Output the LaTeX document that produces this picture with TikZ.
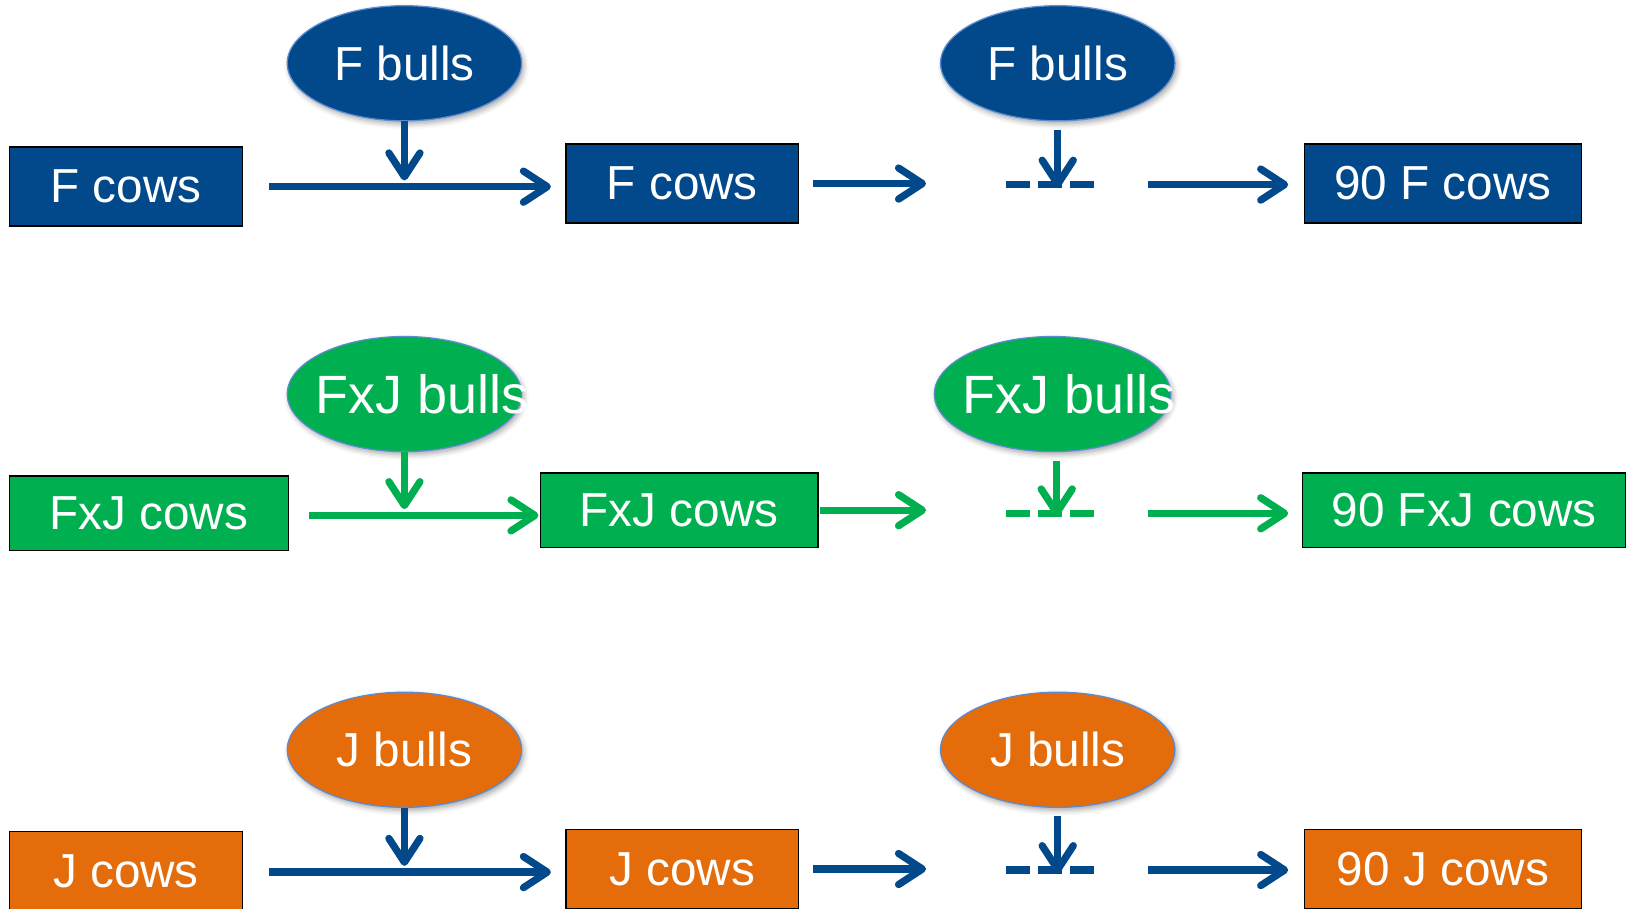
\documentclass[tikz,border=0pt]{standalone}
\usepackage{fontspec}
\setmainfont{Liberation Sans}
\usetikzlibrary{arrows.meta,shapes.geometric,shadows.blur}
\definecolor{fblue}{HTML}{02498C}
\definecolor{fgreen}{HTML}{00B050}
\definecolor{forange}{HTML}{E46C0A}
\definecolor{edgeblue}{HTML}{5B8BD0}
\begin{document}
\begin{tikzpicture}[x=1pt,y=-1pt,
  cow/.style={draw=black, line width=1.5pt, inner sep=0pt, text=white,
    font=\fontsize{46}{54}\selectfont},
  bull/.style={ellipse, draw=edgeblue, line width=1.2pt, minimum width=226pt,
    minimum height=111pt, inner sep=0pt, text=white,
    font=\fontsize{46}{54}\selectfont,
    blur shadow={shadow xshift=2pt, shadow yshift=-3pt, shadow blur radius=5pt, shadow opacity=35}},
  arr/.style={draw=#1, line width=7pt, -{Straight Barb[length=23pt,width=30pt,round]}},
  gapline/.style={draw=#1, line width=7pt, dash pattern=on 23pt off 8pt}
]
\useasboundingbox (0,0) rectangle (1568,876);

% ---------- Row 1 (F) ----------
\node[cow, fill=fblue, minimum width=225pt, minimum height=76pt] (r1a) at (121.5,180) {F cows};
\node[cow, fill=fblue, minimum width=224pt, minimum height=76pt] (r1b) at (658,177) {F cows};
\node[cow, fill=fblue, minimum width=267pt, minimum height=76pt] (r1c) at (1391.5,177) {90 F cows};
\node[bull, fill=fblue] (r1e) at (390,61) {F bulls};
\node[bull, fill=fblue] (r1f) at (1020,61) {F bulls};
\coordinate (r1j) at (390,180);
\coordinate (r1m) at (1020,178);

\draw[arr=fblue, shorten <=25pt, shorten >=14pt] (r1a.east |- r1j) -- (r1b.west |- r1j);
\draw[arr=fblue, shorten <=13pt, shorten >=127pt] (r1b.east) -- (r1b.east -| r1m);
\draw[gapline=fblue] ([xshift=-50pt]r1m) -- ([xshift=35pt]r1m);
\draw[arr=fblue, shorten <=87pt, shorten >=15pt] (r1m) -- (r1c.west |- r1m);
\draw[arr=fblue, shorten >=6pt] (r1e.south) -- (r1j);
\draw[arr=fblue, shorten <=8pt, shorten >=-3pt] (r1f.south) -- (r1m);

% ---------- Row 2 (FxJ) ----------
\node[cow, fill=fgreen, minimum width=269pt, minimum height=72pt] (r2a) at (143.5,495) {FxJ cows};
\node[cow, fill=fgreen, minimum width=268pt, minimum height=72pt] (r2b) at (655,492) {FxJ cows};
\node[cow, fill=fgreen, minimum width=312pt, minimum height=72pt] (r2c) at (1412,492) {90 FxJ cows};
\node[bull, fill=fgreen, font=\fontsize{52}{60}\selectfont] (r2e) at (390,380)
  {\makebox[0pt]{\hspace*{34pt}FxJ bulls}};
\node[bull, fill=fgreen, minimum width=228pt, font=\fontsize{52}{60}\selectfont] (r2f) at (1015,380)
  {\makebox[0pt]{\hspace*{32pt}FxJ bulls}};
\coordinate (r2j) at (390,497);
\coordinate (r2m) at (1019,495);

\draw[arr=fgreen, shorten <=19pt, shorten >=1pt] (r2a.east |- r2j) -- (r2b.west |- r2j);
\draw[arr=fgreen, shorten <=1pt, shorten >=126pt] (r2b.east) -- (r2b.east -| r2m);
\draw[gapline=fgreen] ([xshift=-49pt]r2m) -- ([xshift=36pt]r2m);
\draw[arr=fgreen, shorten <=88pt, shorten >=13pt] (r2m) -- (r2c.west |- r2m);
\draw[arr=fgreen, shorten >=6pt] (r2e.south) -- (r2j);
\draw[arr=fgreen, shorten <=8pt, shorten >=-3pt] (r2m |- r2f.south) -- (r2m);

% ---------- Row 3 (J) ----------
\node[cow, fill=forange, minimum width=225pt, minimum height=76pt] (r3a) at (121.5,840) {J cows};
\node[cow, fill=forange, minimum width=224pt, minimum height=76pt] (r3b) at (658,838) {J cows};
\node[cow, fill=forange, minimum width=267pt, minimum height=76pt] (r3c) at (1391.5,838) {90 J cows};
\node[bull, fill=forange] (r3e) at (390,723) {J bulls};
\node[bull, fill=forange] (r3f) at (1020,723) {J bulls};
\coordinate (r3j) at (390,841);
\coordinate (r3m) at (1020,839);

\draw[arr=fblue, shorten <=25pt, shorten >=14pt] (r3a.east |- r3j) -- (r3b.west |- r3j);
\draw[arr=fblue, shorten <=13pt, shorten >=127pt] (r3b.east) -- (r3b.east -| r3m);
\draw[gapline=fblue] ([xshift=-50pt]r3m) -- ([xshift=35pt]r3m);
\draw[arr=fblue, shorten <=87pt, shorten >=15pt] (r3m) -- (r3c.west |- r3m);
\draw[arr=fblue, shorten >=6pt] (r3e.south) -- (r3j);
\draw[arr=fblue, shorten <=8pt, shorten >=-3pt] (r3f.south) -- (r3m);
\end{tikzpicture}
\end{document}
